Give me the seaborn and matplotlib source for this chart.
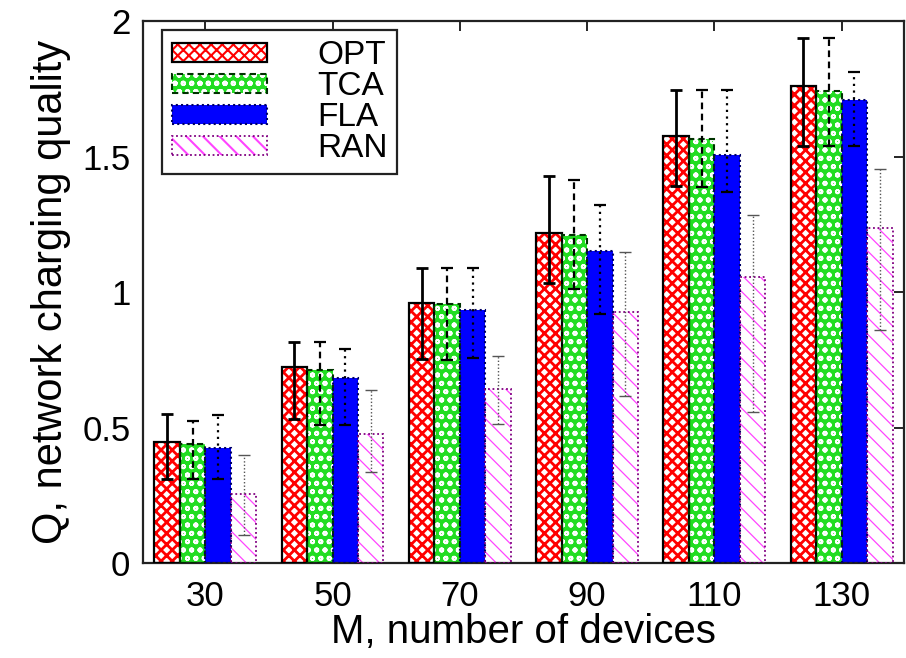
import numpy as np
import pandas as pd
import matplotlib
matplotlib.use('Agg')
import matplotlib.pyplot as plt
import matplotlib.patches as mpatches
from matplotlib.legend_handler import HandlerTuple
import seaborn as sns

# 数据
devices = [30, 50, 70, 90, 110, 130]
algs = ['OPT', 'TCA', 'FLA', 'RAN']

opt = [0.446, 0.723, 0.961, 1.216, 1.576, 1.761]
opt_lo = [0.309, 0.531, 0.754, 1.035, 1.391, 1.539]
opt_hi = [0.550, 0.816, 1.090, 1.430, 1.746, 1.937]

tca = [0.439, 0.711, 0.954, 1.210, 1.564, 1.741]
tca_lo = [0.309, 0.509, 0.748, 1.010, 1.387, 1.539]
tca_hi = [0.525, 0.816, 1.090, 1.415, 1.746, 1.937]

fla = [0.426, 0.683, 0.935, 1.150, 1.506, 1.708]
fla_lo = [0.309, 0.509, 0.758, 0.920, 1.369, 1.539]
fla_hi = [0.547, 0.790, 1.090, 1.320, 1.746, 1.813]

ran = [0.254, 0.476, 0.643, 0.925, 1.057, 1.238]
ran_lo = [0.103, 0.337, 0.514, 0.617, 0.558, 0.859]
ran_hi = [0.399, 0.640, 0.763, 1.146, 1.284, 1.453]

means = {'OPT': opt, 'TCA': tca, 'FLA': fla, 'RAN': ran}
lows = {'OPT': opt_lo, 'TCA': tca_lo, 'FLA': fla_lo, 'RAN': ran_lo}
highs = {'OPT': opt_hi, 'TCA': tca_hi, 'FLA': fla_hi, 'RAN': ran_hi}

df = pd.DataFrame([(m, a, means[a][i]) for a in algs for i, m in enumerate(devices)],
                  columns=['M', 'alg', 'Q'])

# 样式
face = {'OPT': 'white', 'TCA': '#22dd22', 'FLA': '#0000ff', 'RAN': 'white'}
hatch_col = {'OPT': '#ff0000', 'TCA': 'white', 'FLA': '#0000ff', 'RAN': '#ff44ff'}
hatches = {'OPT': 'xxx', 'TCA': 'oo', 'FLA': None, 'RAN': '\\\\'}
hatch_lw = {'OPT': 2.0, 'TCA': 1.3, 'FLA': 1.0, 'RAN': 0.9}
edge = {'OPT': ('black', '-', 1.6), 'TCA': ('#003300', (0, (3, 2)), 1.5),
        'FLA': ('#000066', (0, (1, 1.5)), 1.5), 'RAN': ('#800080', (0, (1, 1.5)), 1.3)}
err_style = {'OPT': ('black', '-', 2.0), 'TCA': ('black', (0, (3, 2)), 1.6),
             'FLA': ('black', (0, (1, 2)), 1.6), 'RAN': ('#555555', (0, (1, 1.5)), 1.0)}

sns.set_theme(style='white')
plt.rcParams['font.family'] = ['Liberation Sans', 'DejaVu Sans']
plt.rcParams['text.color'] = 'black'
plt.rcParams['axes.labelcolor'] = 'black'
plt.rcParams['hatch.linewidth'] = 1.5

fig = plt.figure(figsize=(9.06, 6.58), dpi=100)
ax = fig.add_axes([0.1578, 0.1444, 0.84, 0.8236])

sns.barplot(data=df, x='M', y='Q', hue='alg', hue_order=algs, errorbar=None,
            width=0.8, legend=False, ax=ax)

handles = []
for a, cont in zip(algs, ax.containers):
    xs = []
    for p in cont:
        p.set_facecolor(face[a])
        p.set_edgecolor(hatch_col[a])
        p.set_linewidth(0)
        if hatches[a]:
            p.set_hatch(hatches[a])
            p.set_hatch_linewidth(hatch_lw[a])
        ec, ls, lw = edge[a]
        ax.add_patch(mpatches.Rectangle((p.get_x(), p.get_y()), p.get_width(), p.get_height(),
                                        fill=False, edgecolor=ec, linestyle=ls, linewidth=lw, zorder=3))
        xs.append(p.get_x() + p.get_width() / 2)
    m = np.array(means[a])
    yerr = [m - np.array(lows[a]), np.array(highs[a]) - m]
    c, ls, lw = err_style[a]
    eb = ax.errorbar(xs, m, yerr=yerr, fmt='none', ecolor=c, elinewidth=lw,
                     capsize=4, capthick=lw, zorder=4)
    for line in eb[2]:
        line.set_linestyle(ls)

    h1 = mpatches.Patch(facecolor=face[a], edgecolor=hatch_col[a], hatch=hatches[a], linewidth=0)
    if hatches[a]:
        h1.set_hatch_linewidth(hatch_lw[a])
    ec, ls, lw = edge[a]
    h2 = mpatches.Patch(fill=False, edgecolor=ec, linestyle=ls, linewidth=lw)
    handles.append((h1, h2))

ax.set_xlim(-0.49, 5.49)
ax.set_ylim(0, 2)
ax.set_yticks([0, 0.5, 1, 1.5, 2])
ax.set_yticklabels(['0', '0.5', '1', '1.5', '2'])
ax.set_xlabel('M, number of devices', fontsize=29, labelpad=0)
ax.set_ylabel('Q, network charging quality', fontsize=30, labelpad=8)
ax.tick_params(axis='both', direction='in', length=7, width=1.2, labelsize=25,
               top=True, right=True, colors='black')
ax.tick_params(axis='x', pad=12)
ax.tick_params(axis='y', pad=9)
for s in ax.spines.values():
    s.set_color('#222222')
    s.set_linewidth(1.6)
    s.set_visible(True)

leg = ax.legend(handles, algs, handler_map={tuple: HandlerTuple(ndivide=1)},
                loc='upper left', bbox_to_anchor=(0.025, 0.983), fontsize=24,
                frameon=True, fancybox=False, framealpha=1, edgecolor='#222222',
                handlelength=2.85, handleheight=0.5, handletextpad=1.5,
                labelspacing=0.0, borderpad=0.3, borderaxespad=0)
leg.get_frame().set_linewidth(1.6)

fig.savefig('out.png', dpi=100)
